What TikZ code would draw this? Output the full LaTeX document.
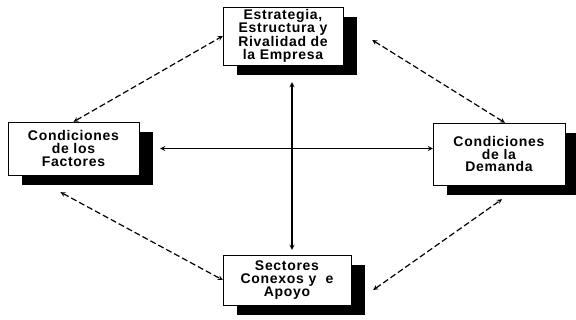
\documentclass[tikz,border=0pt]{standalone}
\usepackage{fontspec}
\newfontfamily\diamondfont[LetterSpace=5]{Liberation Sans}
\usepackage{tikz}
\usetikzlibrary{shapes,arrows,positioning,shadows}

\begin{document}
\begin{tikzpicture}[node distance=120pt, auto, >=stealth]
    % Define styles
    \tikzstyle{factor} = [rectangle, text centered, align=center, draw=black, fill=white, inner sep=2pt,
        font={\diamondfont\bfseries\fontsize{14pt}{12.8pt}\selectfont},
        drop shadow={shadow xshift=14pt, shadow yshift=-10pt, fill=black, opacity=1}]
    \tikzstyle{link} = [<->, line width=1.2pt]
    \tikzstyle{dashlink} = [<->, line width=1.2pt, dash pattern=on 6pt off 3pt]

    \useasboundingbox (-283pt,36pt) rectangle (293pt,-284pt);

    % Nodes
    \node[factor, minimum width=120pt, minimum height=58pt] (estrategia) {Estrategia,\\Estructura y\\Rivalidad de\\la Empresa};
    \node[factor, below of=estrategia, xshift=-209.5pt, yshift=7.5pt, minimum width=131pt, minimum height=53pt] (factores) {Condiciones\\de los\\Factores};
    \node[factor, below of=estrategia, xshift=216pt, yshift=2pt, minimum width=132pt, minimum height=62pt] (demanda) {Condiciones\\de la\\Demanda};
    \node[factor, below of=estrategia, xshift=4pt, yshift=-124pt, minimum width=128pt, minimum height=50pt] (sectores) {Sectores\\Conexos y \ e\\Apoyo};

    % Connections
    \draw[dashlink] (factores.north) -- (estrategia.west);
    \draw[dashlink] ([xshift=29pt, yshift=-4pt]estrategia.east) -- ([xshift=6pt]demanda.north);
    \draw[dashlink] ([xshift=-13pt, yshift=-17pt]factores.south) -- (sectores.west);
    \draw[dashlink] ([xshift=22pt, yshift=-10pt]sectores.east) -- ([xshift=3pt, yshift=-14pt]demanda.south);
    \draw[link] ([xshift=21pt]factores.east) -- (factores.east -| demanda.west);
    \draw[link] ([xshift=9pt, yshift=-17pt]estrategia.south) -- ([xshift=5pt, yshift=5pt]sectores.north);
\end{tikzpicture}
\end{document}
